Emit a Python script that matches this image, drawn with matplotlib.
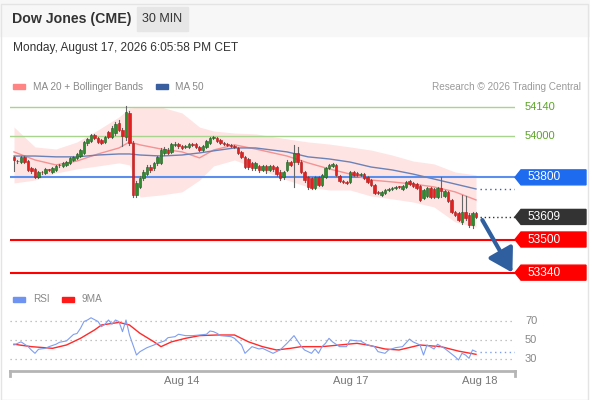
import matplotlib
matplotlib.use('Agg')
import matplotlib.pyplot as plt
from matplotlib.patches import Rectangle, Polygon, FancyArrowPatch

plt.rcParams['font.family'] = ['Liberation Sans', 'DejaVu Sans']

# 30 min candles
opens = [53899, 53879, 53874, 53899, 53879, 53845, 53841, 53802, 53826, 53821,
         53838, 53826, 53836, 53858, 53855, 53860, 53870, 53884, 53894, 53903,
         53918, 53966, 53976, 54005, 53990, 53981, 53971, 54019, 53995, 54014,
         54063, 54029, 53995, 54111, 53966, 53715, 53754, 53797, 53816, 53850,
         53845, 53870, 53870, 53918, 53932, 53923, 53957, 53961, 53952, 53947,
         53947, 53961, 53961, 53947, 53932, 53947, 53966, 53990, 53990, 53981,
         53966, 53961, 53957, 53952, 53942, 53923, 53899, 53889, 53870, 53845,
         53855, 53836, 53855, 53836, 53855, 53850, 53826, 53802, 53836, 53874,
         53874, 53918, 53874, 53826, 53802, 53797, 53749, 53802, 53763, 53802,
         53845, 53855, 53860, 53807, 53783, 53778, 53778, 53826, 53821, 53812,
         53816, 53802, 53787, 53763, 53730, 53715, 53725, 53739, 53744, 53749,
         53755, 53744, 53754, 53783, 53773, 53768, 53758, 53701, 53710, 53749,
         53744, 53705, 53749, 53710, 53730, 53691, 53633, 53628, 53585, 53633,
         53618, 53570, 53628]
closes = [53884, 53877, 53899, 53874, 53836, 53831, 53802, 53826, 53824, 53841,
          53836, 53845, 53855, 53860, 53870, 53874, 53894, 53899, 53913, 53932,
          53971, 53986, 54005, 53990, 53971, 53966, 53995, 53995, 54039, 54058,
          54029, 54000, 54116, 53966, 53715, 53773, 53797, 53826, 53850, 53836,
          53870, 53899, 53932, 53937, 53918, 53961, 53961, 53952, 53942, 53952,
          53961, 53957, 53947, 53932, 53952, 53976, 53990, 53995, 53976, 53966,
          53961, 53957, 53952, 53947, 53918, 53899, 53850, 53850, 53845, 53870,
          53836, 53855, 53836, 53855, 53841, 53816, 53797, 53826, 53874, 53860,
          53918, 53874, 53826, 53787, 53754, 53749, 53802, 53763, 53812, 53845,
          53860, 53865, 53812, 53783, 53778, 53773, 53826, 53812, 53812, 53816,
          53797, 53778, 53763, 53725, 53725, 53730, 53739, 53744, 53749, 53754,
          53753, 53758, 53778, 53768, 53758, 53749, 53691, 53739, 53749, 53705,
          53705, 53749, 53734, 53734, 53686, 53633, 53618, 53594, 53633, 53604,
          53570, 53628, 53609]
highs = [53903, 53884, 53903, 53903, 53884, 53850, 53845, 53831, 53831, 53845,
         53841, 53850, 53860, 53865, 53874, 53879, 53899, 53903, 53918, 53937,
         53976, 53990, 54010, 54010, 53995, 53986, 54000, 54024, 54048, 54068,
         54077, 54039, 54145, 54121, 53976, 53783, 53807, 53836, 53860, 53860,
         53874, 53903, 53942, 53947, 53942, 53966, 53971, 53966, 53957, 53957,
         53966, 53966, 53966, 53952, 53957, 53981, 53995, 54000, 53995, 53986,
         53971, 53966, 53961, 53957, 53947, 53928, 53903, 53894, 53874, 53874,
         53860, 53860, 53860, 53860, 53860, 53855, 53836, 53831, 53884, 53879,
         53957, 53947, 53884, 53831, 53807, 53802, 53807, 53807, 53816, 53850,
         53865, 53870, 53865, 53812, 53787, 53783, 53831, 53831, 53826, 53821,
         53821, 53807, 53792, 53768, 53734, 53734, 53744, 53749, 53754, 53758,
         53758, 53763, 53783, 53787, 53778, 53773, 53763, 53744, 53754, 53754,
         53749, 53754, 53802, 53739, 53734, 53696, 53638, 53633, 53715, 53710,
         53628, 53633, 53633]
lows = [53831, 53870, 53870, 53870, 53831, 53821, 53797, 53797, 53816, 53816,
        53831, 53821, 53831, 53850, 53850, 53855, 53865, 53879, 53889, 53899,
        53913, 53957, 53971, 53986, 53966, 53961, 53966, 53990, 53990, 54005,
        54024, 53952, 53981, 53957, 53705, 53705, 53749, 53787, 53812, 53826,
        53836, 53860, 53865, 53908, 53913, 53918, 53952, 53942, 53937, 53942,
        53942, 53952, 53942, 53928, 53928, 53942, 53961, 53986, 53971, 53961,
        53957, 53952, 53947, 53942, 53913, 53894, 53845, 53841, 53836, 53836,
        53826, 53831, 53821, 53831, 53831, 53807, 53787, 53792, 53831, 53855,
        53754, 53865, 53821, 53778, 53744, 53744, 53744, 53758, 53758, 53797,
        53841, 53850, 53807, 53778, 53773, 53768, 53773, 53807, 53807, 53807,
        53792, 53773, 53758, 53720, 53720, 53710, 53720, 53734, 53739, 53744,
        53749, 53739, 53749, 53763, 53754, 53744, 53686, 53696, 53705, 53701,
        53701, 53701, 53705, 53705, 53681, 53628, 53614, 53590, 53575, 53594,
        53560, 53556, 53604]

# moving averages and bands, read at some candles
ma_idx = [0, 6, 12, 18, 24, 30, 33, 36, 42, 48, 53, 57, 63, 69, 78, 84, 90, 96,
          102, 108, 114, 120, 126, 132]
ma20 = [53923, 53884, 53860, 53879, 53913, 53942, 53971, 53957, 53937, 53923,
        53894, 53932, 53957, 53937, 53903, 53870, 53841, 53816, 53787, 53778,
        53768, 53754, 53730, 53691]
ma50 = [53903, 53903, 53899, 53899, 53908, 53913, 53913, 53908, 53903, 53908,
        53918, 53928, 53942, 53942, 53923, 53899, 53889, 53874, 53850, 53836,
        53816, 53792, 53768, 53744]
bb_upper = [54043, 53947, 53937, 53971, 54029, 54092, 54135, 54140, 54140, 54111,
            54043, 54024, 54014, 54010, 53986, 53971, 53961, 53947, 53932, 53908,
            53879, 53865, 53826, 53812]
bb_lower = [53773, 53787, 53821, 53841, 53855, 53870, 53860, 53705, 53715, 53730,
            53787, 53855, 53884, 53845, 53787, 53754, 53739, 53739, 53710, 53696,
            53681, 53657, 53585, 53560]

rsi_idx = [0, 2, 4, 5, 6, 7, 9, 10, 12, 13, 15, 16, 17, 18, 19, 20, 21, 22, 24, 25,
           26, 27, 28, 29, 30, 31, 32, 33, 35, 36, 38, 40, 41, 43, 44, 46, 47, 49, 51, 53,
           55, 56, 57, 58, 59, 62, 63, 65, 66, 68, 70, 71, 72, 74, 76, 78, 80, 82, 83, 85,
           86, 87, 88, 89, 90, 91, 93, 95, 96, 98, 99, 101, 103, 104, 106, 107, 109, 111,
           113, 114, 116, 117, 118, 120, 121, 123, 124, 126, 127, 128, 129, 130, 131, 132]
rsi = [44.6, 48, 43, 39, 35.6, 40, 41, 42.8, 45.4, 47.5, 49, 52.5, 56, 57, 62.6, 70,
       71.6, 74, 70, 64.4, 67, 71.6, 67, 71.6, 69.8, 59, 71.6, 55.4, 33.8, 37.4, 41.7,
       44.6, 46.4, 49, 52.5, 53.6, 56.2, 54.7, 54.7, 55.4, 56.2, 59.7, 59, 57.2, 54.7,
       53.6, 51.8, 44.6, 35.6, 42.8, 40.3, 41, 39.2, 35.6, 39.2, 46.4, 54.7, 43.5, 39.2,
       35.6, 40.3, 35.6, 42.8, 46.4, 51.8, 48, 42.8, 42.8, 50, 49, 49, 44.6, 42.8, 37.4,
       35.6, 39.2, 41.7, 42.8, 51, 48, 44.6, 33.8, 44.6, 40.3, 45.4, 41, 38, 32, 28.4,
       35.6, 33.8, 30.2, 39.2, 37.4]
rsi_ma_idx = [0, 5, 11, 15, 19, 23, 25, 30, 33, 36, 40, 42, 45, 49, 53, 58, 63, 67,
              71, 75, 79, 82, 88, 93, 98, 101, 106, 110, 116, 122, 127, 132]
rsi_ma = [45.4, 42.8, 41, 44.6, 51.8, 60.8, 66.2, 69, 66.2, 57.2, 48, 42.8, 48, 51.8,
          54.7, 55.4, 55.4, 48, 42.8, 39.2, 41, 42.8, 42.8, 44.6, 46.4, 44.6, 40.3,
          39.2, 44.6, 42.8, 38, 34.5]

resist_levels = [54140, 54000]
pivot = 53800
support_levels = [53500, 53340]
last_price = 53609
rsi_levels = [70, 50, 30]
date_ticks = [48, 96.3, 133.1]
date_labels = ['Aug 14', 'Aug 17', 'Aug 18']

W, H = 590, 400
fig = plt.figure(figsize=(W / 100, H / 100), dpi=100)


def px_axes(x0, y0, x1, y1):
    return fig.add_axes([x0 / W, 1 - y1 / H, (x1 - x0) / W, (y1 - y0) / H])


def ftext(x, y, s, **kw):
    fig.text(x / W, 1 - y / H, s, va='center', **kw)


def frect(x0, y0, x1, y1, color):
    fig.patches.append(Rectangle((x0 / W, 1 - y1 / H), (x1 - x0) / W, (y1 - y0) / H,
                                 transform=fig.transFigure, color=color, zorder=0))


# header
frect(0, 0, W, 36, '#f7f7f7')
fig.patches.append(Rectangle((0.5 / W, 0.5 / H), (W - 3) / W, (H - 4) / H, transform=fig.transFigure,
                             fill=False, edgecolor='#e4e4e4', lw=1))
ftext(12, 19.5, 'Dow Jones (CME)', fontsize=10.2, fontweight='bold', color='#333333')
frect(137, 7, 188, 31, '#e6e6e6')
fig.text(162.5 / W, 1 - 19.5 / H, '30 MIN', ha='center', va='center', fontsize=9, color='#333333')
ftext(13, 48, 'Monday, August 17, 2026 6:05:58 PM CET', fontsize=8.6, color='#333333')

# legends
frect(13, 84, 25, 89, '#ff8585')
ftext(33, 86.5, 'MA 20 + Bollinger Bands', fontsize=7.2, color='#888888')
frect(156, 84, 168, 89, '#3a5fa0')
ftext(175, 86.5, 'MA 50', fontsize=7.2, color='#888888')
fig.text(581 / W, 1 - 86.5 / H, 'Research \u00a9 2026 Trading Central', ha='right', va='center',
         fontsize=7.2, color='#9a9a9a')
frect(13, 297, 25, 302, '#6f93f0')
ftext(33, 299.5, 'RSI', fontsize=7.2, color='#888888')
frect(62, 297, 74, 302, '#ff1a1a')
ftext(82, 299.5, '9MA', fontsize=7.2, color='#888888')

# price panel
ax = px_axes(10, 97, 515, 283)
ax.set_xlim(-1.14, 143.14)
ax.set_ylim(53290, 54188)
ax.axis('off')
half_h = 7.5 * (54188 - 53290) / 186.0

ax.fill_between(ma_idx, bb_lower, bb_upper, color='#ffe4e4', lw=0, zorder=1)
ax.plot(ma_idx, ma20, color='#f59292', lw=1, zorder=2)
ax.plot(ma_idx, ma50, color='#6a82b8', lw=1, zorder=2)

for lv in resist_levels:
    ax.axhline(lv, color='#a9d48e', lw=1, zorder=1)
ax.axhline(pivot, color='#5a8fee', lw=1.5, zorder=1)
for lv in support_levels:
    ax.axhline(lv, color='#ff0000', lw=1.5, zorder=1)

for i in range(len(closes)):
    up = closes[i] >= opens[i]
    col = '#2e8b2e' if up else '#e32020'
    edge = '#1d5e1d' if up else '#b51515'
    ax.plot([i, i], [lows[i], highs[i]], color='#666666', lw=0.8, zorder=3)
    lo = min(opens[i], closes[i])
    hgt = max(abs(closes[i] - opens[i]), 3)
    ax.add_patch(Rectangle((i - 0.36, lo), 0.72, hgt, facecolor=col, edgecolor=edge, lw=0.4, zorder=4))

n = len(closes)
ax.plot([ma_idx[-1] + 1, 143.14], [ma50[-1], ma50[-1]], color='#3f5f9a', lw=1, ls=(0, (1, 2.5)), zorder=2)
ax.plot([n, 143.14], [last_price, last_price], color='#333333', lw=1, ls=(0, (1, 2)), zorder=2)

arrow = FancyArrowPatch((n + 0.8, last_price - 15), (n + 9.4, support_levels[1]),
                        arrowstyle='-|>,head_length=1.0,head_width=0.6', mutation_scale=14,
                        lw=3, color='#2f5f9f', zorder=6, shrinkA=0, shrinkB=0)
ax.add_patch(arrow)

tr = ax.get_yaxis_transform()
x_tip = 1 + 6 / 505
x_right = 1 + 71 / 505


def level_box(y, text, color):
    pts = [(1.0, y), (x_tip, y + half_h), (x_right, y + half_h), (x_right, y - half_h), (x_tip, y - half_h)]
    ax.add_patch(Polygon(pts, closed=True, transform=tr, clip_on=False, color=color, zorder=5))
    ax.text(1 + 12 / 505, y, text, transform=tr, color='white', fontsize=8.6, va='center',
            clip_on=False, zorder=7)


for lv in resist_levels:
    ax.text(1 + 10 / 505, lv, str(lv), transform=tr, color='#5aa524', fontsize=8, va='center')
level_box(pivot, str(pivot), '#1e6bf0')
level_box(last_price, str(last_price), '#333333')
for lv in support_levels:
    level_box(lv, str(lv), '#ff0000')

# RSI panel
ax2 = px_axes(10, 300, 515, 371)
ax2.set_xlim(-1.14, 143.14)
ax2.set_ylim(16.5, 93.2)
for s in ['top', 'left', 'right']:
    ax2.spines[s].set_visible(False)
ax2.spines['bottom'].set_color('#b5b5b5')
ax2.spines['bottom'].set_linewidth(2)
for lv in rsi_levels:
    ax2.axhline(lv, color='#b0b0b0', lw=0.9, ls=(0, (1, 3)), zorder=1)
    ax2.text(1 + 10 / 505, lv, str(lv), transform=ax2.get_yaxis_transform(), color='#888888',
             fontsize=8, va='center')
ax2.plot(rsi_idx, rsi, color='#7e9ef0', lw=0.8, zorder=3)
ax2.plot(rsi_ma_idx, rsi_ma, color='#ff2a2a', lw=1, zorder=2)
ax2.plot([rsi_idx[-1] + 1, 143.14], [rsi[-1], rsi[-1]], color='#7e9ef0', lw=1, ls=(0, (1, 2.5)))
for xe in [0, 1]:
    ax2.plot([xe, xe], [0, -0.07], transform=ax2.transAxes, color='#b5b5b5', lw=2, clip_on=False)
ax2.set_yticks([])
ax2.set_xticks(date_ticks)
ax2.set_xticklabels(date_labels)
ax2.tick_params(axis='x', length=0, pad=3.5, labelsize=8, labelcolor='#777777')

fig.savefig('out.png', dpi=100)
